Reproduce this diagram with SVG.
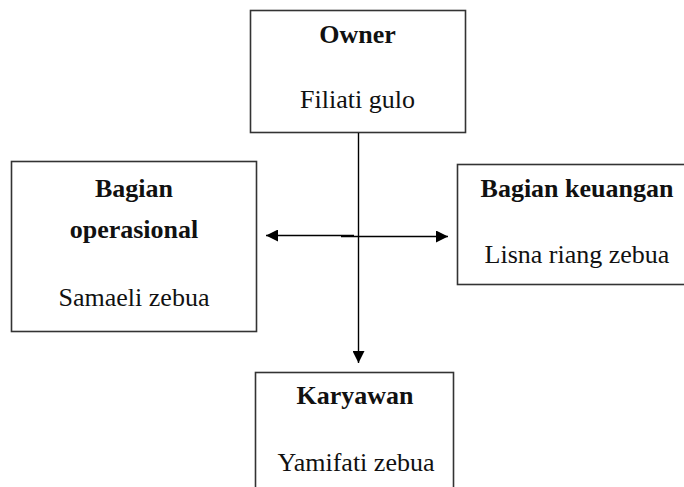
<svg xmlns="http://www.w3.org/2000/svg" width="684" height="487" viewBox="0 0 684 487">
<style>
.box{fill:#fff;stroke:#333;stroke-width:1.6}
.t{font-family:"Liberation Serif","Times New Roman",serif;font-size:26px;fill:#111;text-anchor:middle}
.b{font-weight:bold}
.ln{stroke:#000;stroke-width:1.4;fill:none}
</style>
<defs>
<marker id="ah" markerWidth="12" markerHeight="12" viewBox="0 0 12 12" refX="12" refY="6" orient="auto" markerUnits="userSpaceOnUse">
<path d="M0,0 L12,6 L0,12 Z" fill="#000"/>
</marker>
</defs>
<rect width="684" height="487" fill="#fff"/>
<g id="owner">
<rect class="box" x="250.5" y="10.5" width="215" height="122"/>
<text class="t b" x="357.5" y="43">Owner</text>
<text class="t" x="357.5" y="108">Filiati gulo</text>
</g>
<g id="operasional">
<rect class="box" x="11.5" y="161.5" width="245" height="170"/>
<text class="t b" x="134" y="197">Bagian</text>
<text class="t b" x="134" y="238">operasional</text>
<text class="t" x="134" y="306">Samaeli zebua</text>
</g>
<g id="keuangan">
<rect class="box" x="457.5" y="164.5" width="240" height="120"/>
<text class="t b" x="577" y="197">Bagian keuangan</text>
<text class="t" x="577" y="263">Lisna riang zebua</text>
</g>
<g id="karyawan">
<rect class="box" x="255.5" y="372.5" width="198" height="130"/>
<text class="t b" x="355" y="404">Karyawan</text>
<text class="t" x="356" y="471">Yamifati zebua</text>
</g>
<g id="connectors">
<line class="ln" x1="358.5" y1="133" x2="358.5" y2="363" marker-end="url(#ah)"/>
<line class="ln" x1="354" y1="235.5" x2="266" y2="235.5" marker-end="url(#ah)"/>
<line class="ln" x1="341" y1="236.5" x2="448" y2="236.5" marker-end="url(#ah)"/>
</g>
</svg>
